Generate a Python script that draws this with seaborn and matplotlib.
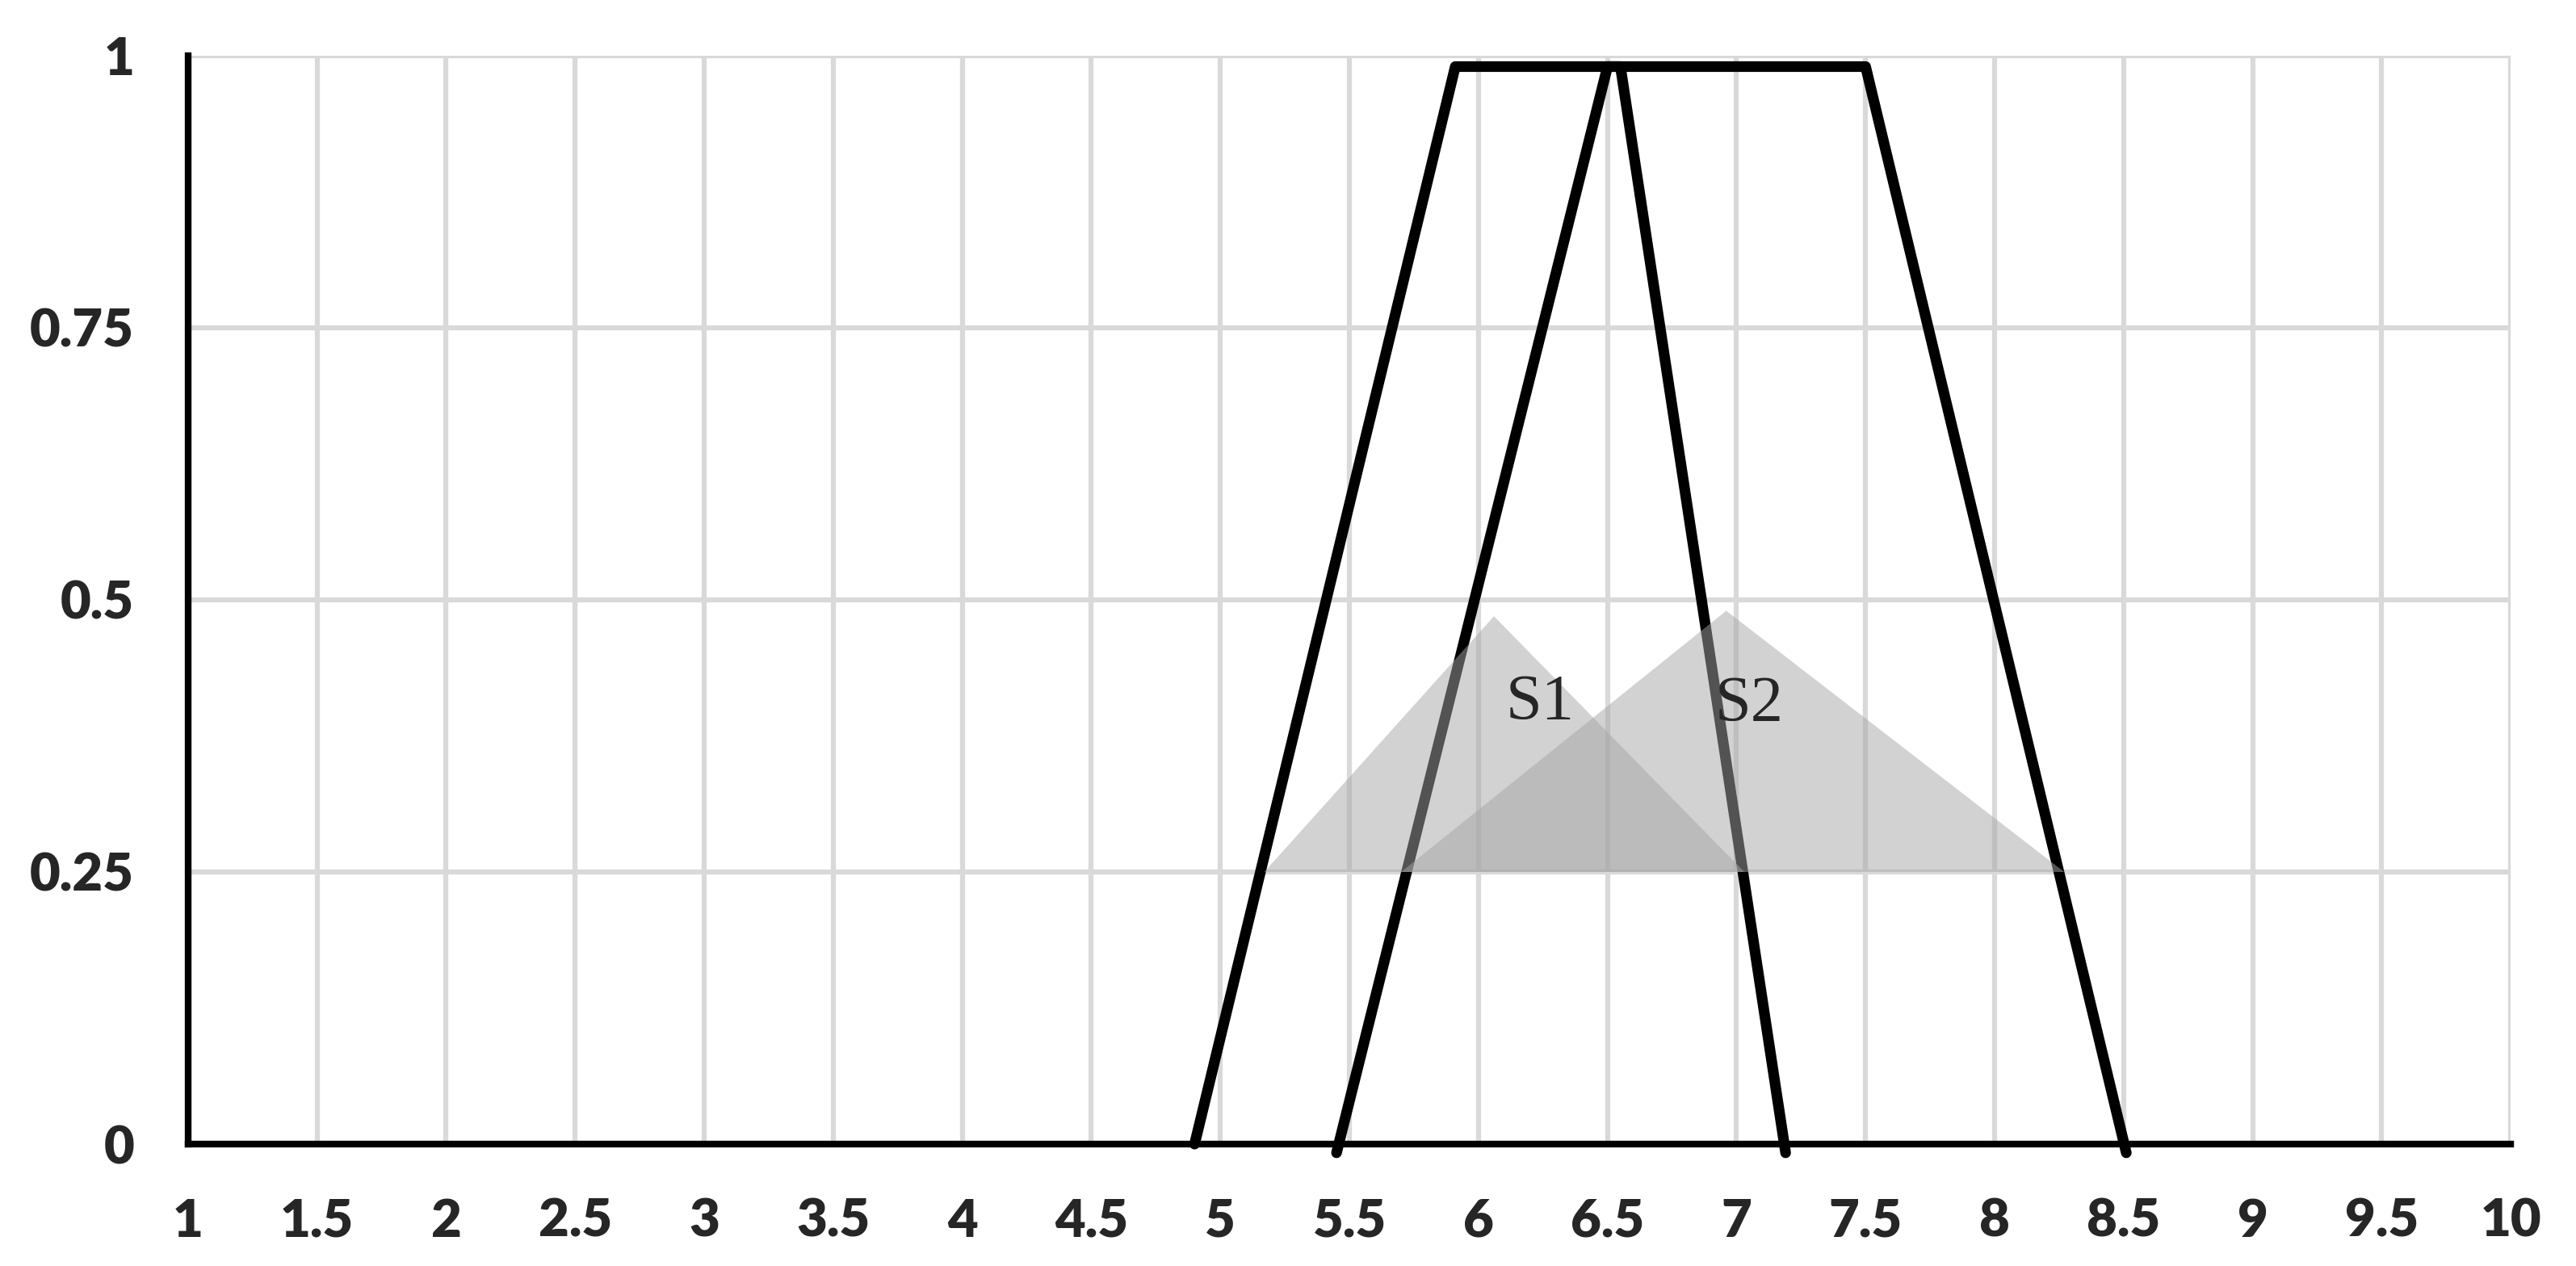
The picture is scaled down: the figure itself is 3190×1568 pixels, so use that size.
import matplotlib
matplotlib.use("Agg")
import matplotlib.pyplot as plt
import pandas as pd
import seaborn as sns

# trapezoid membership functions (black outlines)
trap_a_x = [4.9, 5.91, 6.55, 7.19]
trap_a_y = [0.0, 0.99, 0.99, -0.008]
trap_b_x = [5.45, 6.5, 7.5, 8.51]
trap_b_y = [-0.008, 0.99, 0.99, -0.008]

# shaded triangles
s1_x = [5.17, 6.06, 7.03]
s1_y = [0.25, 0.485, 0.25]
s2_x = [5.70, 6.96, 8.27]
s2_y = [0.25, 0.49, 0.25]

labels = ["S1", "S2"]
label_x = [6.24, 7.05]
label_y = [0.405, 0.403]

x_ticks = [1, 1.5, 2, 2.5, 3, 3.5, 4, 4.5, 5, 5.5, 6, 6.5, 7, 7.5, 8, 8.5, 9, 9.5, 10]
x_ticklabels = ["1", "1.5", "2", "2.5", "3", "3.5", "4", "4.5", "5", "5.5",
                "6", "6.5", "7", "7.5", "8", "8.5", "9", "9.5", "10"]
y_ticks = [0, 0.25, 0.5, 0.75, 1]
y_ticklabels = ["0", "0.25", "0.5", "0.75", "1"]

sns.set_style("white")
plt.rcParams['font.family'] = ['Lato', 'DejaVu Sans']

df = pd.concat([
    pd.DataFrame({"x": trap_a_x, "y": trap_a_y, "shape": "A"}),
    pd.DataFrame({"x": trap_b_x, "y": trap_b_y, "shape": "B"}),
])

fig = plt.figure(figsize=(31.9, 15.68), dpi=100)
ax = fig.add_axes([0.073, 0.0963, 0.9017, 0.8597])

sns.lineplot(data=df, x="x", y="y", units="shape", estimator=None, sort=False,
             color="black", lw=9.5, ax=ax, zorder=3, clip_on=False)

for tx, ty in [(s1_x, s1_y), (s2_x, s2_y)]:
    ax.fill(tx, ty, color="#a6a6a6", alpha=0.5, lw=0, zorder=4)

for lab, lx, ly in zip(labels, label_x, label_y):
    ax.text(lx, ly, lab, family="Liberation Serif", fontsize=58,
            ha="center", va="center", zorder=5)

ax.set_xlim(1, 10)
ax.set_ylim(0, 1)
ax.set_xticks(x_ticks)
ax.set_xticklabels(x_ticklabels)
ax.set_yticks(y_ticks)
ax.set_yticklabels(y_ticklabels)
ax.set_xlabel("")
ax.set_ylabel("")
ax.tick_params(length=0, labelsize=47, pad=48)
for t in ax.get_xticklabels() + ax.get_yticklabels():
    t.set_fontweight("heavy")

ax.grid(True, color="#d9d9d9", lw=4.5, zorder=0)
ax.set_axisbelow(True)
for s in ["top", "right"]:
    ax.spines[s].set_visible(False)
for s in ["left", "bottom"]:
    ax.spines[s].set_color("black")
    ax.spines[s].set_linewidth(6)
    ax.spines[s].set_zorder(2)

fig.savefig("out.png", dpi=100)
